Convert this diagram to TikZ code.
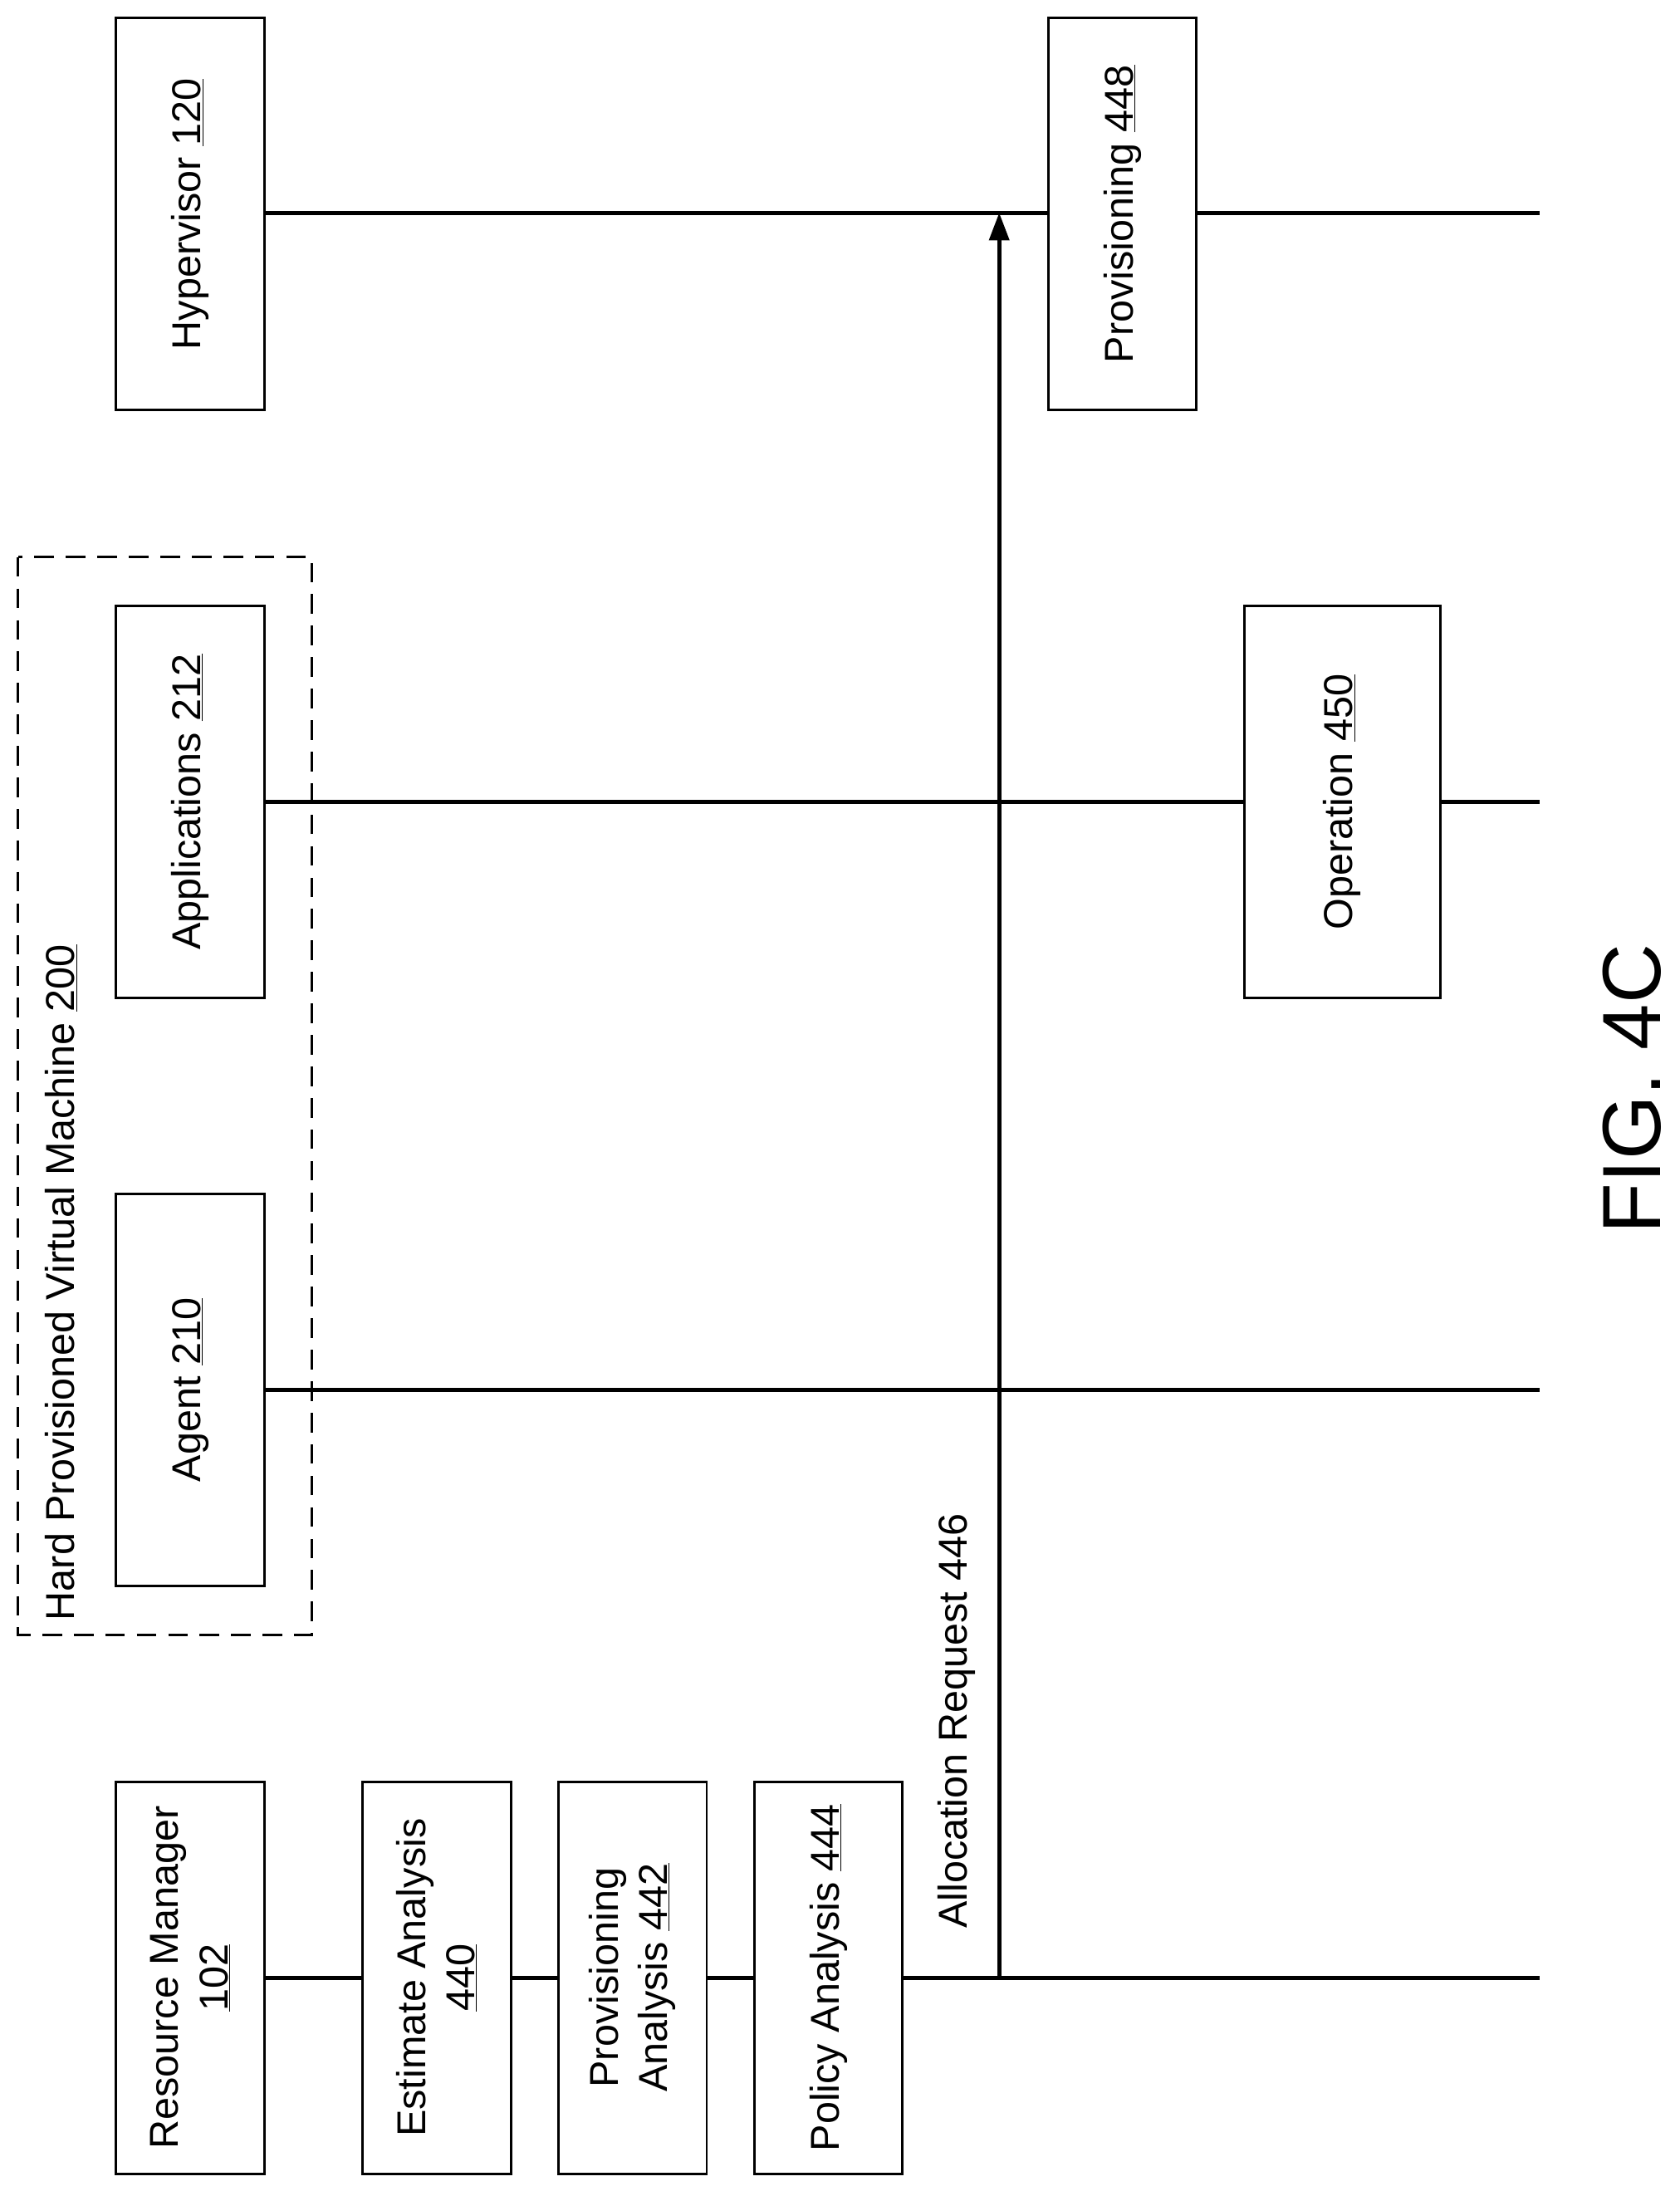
\documentclass[tikz,border=0pt]{standalone}
\usepackage{fontspec}
\setmainfont{Liberation Sans}
\usetikzlibrary{arrows.meta}
\begin{document}
\begin{tikzpicture}[x=0.05cm,y=-0.05cm,
  bx/.style={draw,line width=2.5pt,fill=white,minimum height=5.3cm,minimum width=14cm,inner sep=0pt,align=center,rotate=90,font=\fontsize{41}{50}\selectfont},
  ln/.style={line width=4pt},
  lbl/.style={rotate=90,font=\fontsize{41}{50}\selectfont,inner sep=0pt}]
\useasboundingbox (0,0) rectangle (1200,1569);
% lifelines
\draw[ln] (189,152) -- (1100,152);
\draw[ln] (189,573) -- (1100,573);
\draw[ln] (189,993) -- (1100,993);
\draw[ln] (189,1413) -- (1100,1413);
\draw[dashed,line width=2.5pt,dash pattern=on 20pt off 12pt] (13,398) rectangle (223,1168);
\node[lbl,anchor=south west] (vm) at (55,1158) {Hard Provisioned Virtual Machine \underline{200}};
\node[bx] (hyp) at (136,153) {Hypervisor \underline{120}};
\node[bx] (prov) at (802,153) {Provisioning \underline{448}};
\node[bx] (app) at (136,573) {Applications \underline{212}};
\node[bx,minimum height=7cm] (op) at (959,573) {Operation \underline{450}};
\node[bx] (agent) at (136,993) {Agent \underline{210}};
\node[bx] (rm) at (136,1413) {Resource Manager\\\underline{102}};
\node[bx] (ea) at (312,1413) {Estimate Analysis\\\underline{440}};
\node[bx] (pa) at (452,1413) {Provisioning\\Analysis \underline{442}};
\node[bx] (pol) at (592,1413) {Policy Analysis \underline{444}};
\coordinate (s) at (714,1413);
\coordinate (t) at (714,152);
\draw[ln,-{Triangle[length=28pt,width=20pt]}] (s) -- (t);
\node[lbl,anchor=south west] (ar) at (697,1378) {Allocation Request 446};
\node[rotate=90,font=\fontsize{84}{100}\selectfont,inner sep=0pt] (fig) at (1166,778) {FIG. 4C};
\end{tikzpicture}
\end{document}
